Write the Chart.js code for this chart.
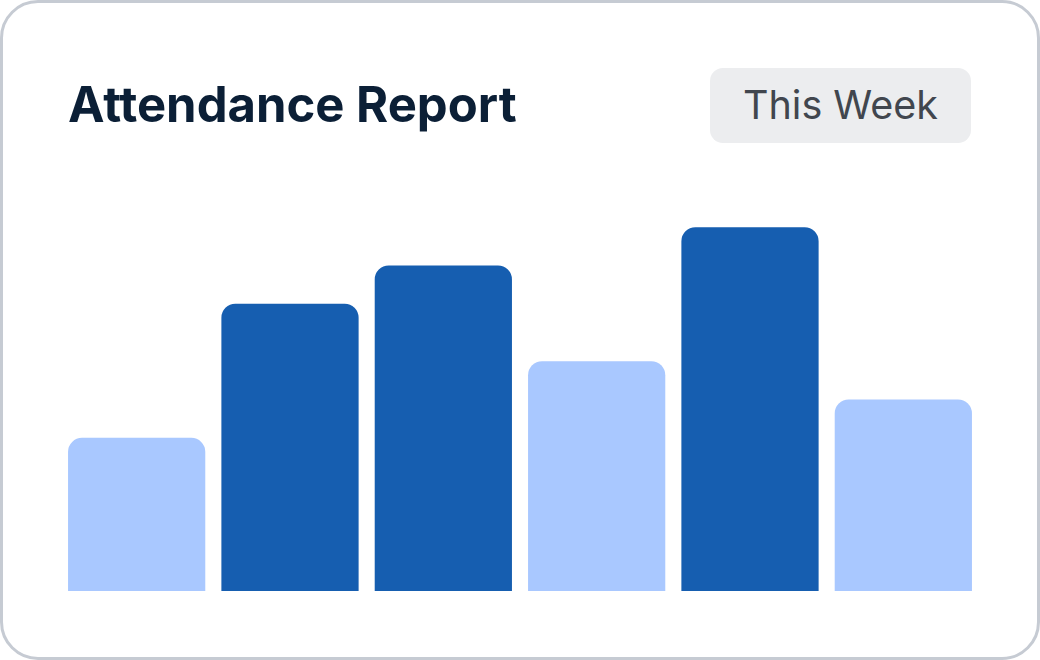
<!DOCTYPE html>
<html>
<head>
<meta charset="utf-8">
<script src="https://cdn.jsdelivr.net/npm/chart.js@4"></script>
<style>
  html, body { margin: 0; padding: 0; background: #ffffff; }
  .card {
    position: relative; width: 1040px; height: 660px; box-sizing: border-box;
    border: 3px solid #c6cbd3; border-radius: 38px; background: #fff; overflow: hidden;
  }
  .title {
    position: absolute; left: 65px; top: 74px; margin: 0;
    font-family: Inter, sans-serif; font-weight: 700; font-size: 49px; color: #0b1f36;
    letter-spacing: 0; line-height: 56px;
  }
  .range {
    position: absolute; left: 707px; top: 65px; width: 261px; height: 75px;
    background: #ecedef; border-radius: 13px; color: #41464e;
    font-family: Inter, sans-serif; font-size: 39.5px; line-height: 75px; text-align: center;
  }
  .plot { position: absolute; left: 57px; top: 205px; width: 920px; height: 383px; }
</style>
</head>
<body>
<div class="card">
  <h1 class="title">Attendance Report</h1>
  <div class="range">This Week</div>
  <div class="plot"><canvas id="bar"></canvas></div>
</div>
<script>
const days = ['Mon', 'Tue', 'Wed', 'Thu', 'Fri', 'Sat'];
const attendance = [40, 75, 85, 60, 95, 50];
const barColors = ['#a9c8ff', '#165eb0', '#165eb0', '#a9c8ff', '#165eb0', '#a9c8ff'];

const CHART = document.getElementById('bar');

let barChart = new Chart(CHART, {
    type: 'bar',
    data: {
        labels: days,
        datasets: [
            {
                label: 'Attendance',
                backgroundColor: barColors,
                borderWidth: 0,
                borderRadius: { topLeft: 14, topRight: 14 },
                borderSkipped: 'bottom',
                barPercentage: 0.895,
                categoryPercentage: 1,
                data: attendance
            }
        ]
    },
    options: {
        responsive: true,
        maintainAspectRatio: false,
        animation: false,
        layout: { padding: 0 },
        plugins: { legend: { display: false }, tooltip: { enabled: false } },
        scales: {
            x: { display: false },
            y: { display: false, min: 0, max: 100 }
        }
    }
});
</script>
</body>
</html>
